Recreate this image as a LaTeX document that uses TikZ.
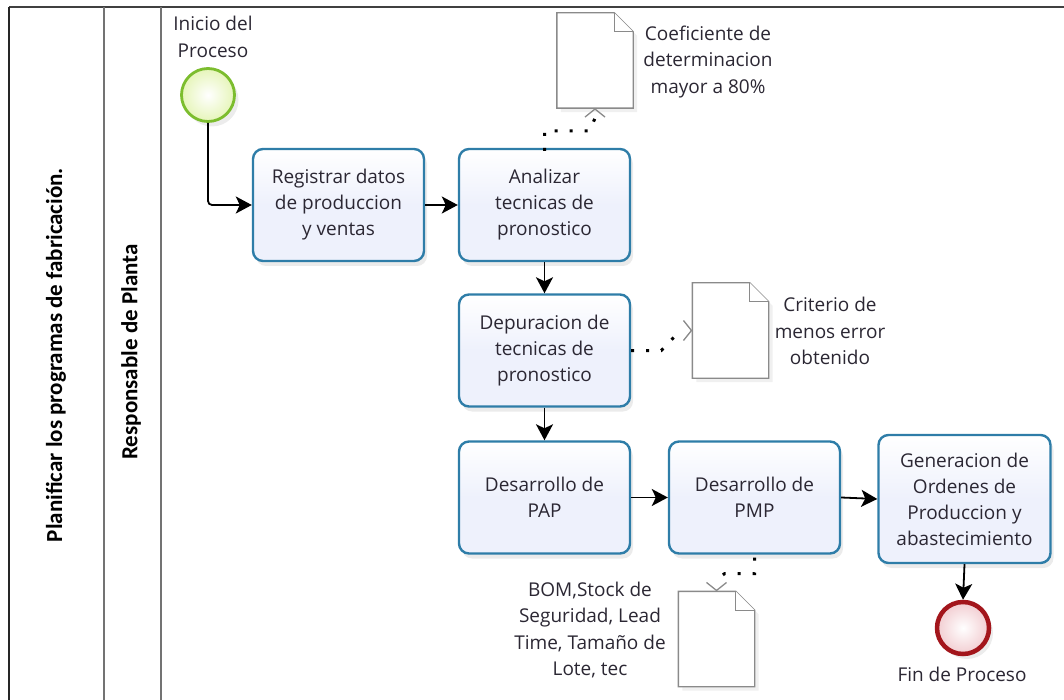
\documentclass[tikz,border=0pt]{standalone}
\usepackage{fontspec}
\setmainfont{Open Sans}
\newfontfamily\lanefont{Carlito}
\usetikzlibrary{arrows.meta,shadows}

\definecolor{taskblue}{HTML}{2E7DA8}
\definecolor{taskfill}{HTML}{EEF1FC}
\definecolor{startgreen}{HTML}{7CBD2E}
\definecolor{startfill}{HTML}{E6F5B9}
\definecolor{endred}{HTML}{A3161C}
\definecolor{endfill}{HTML}{F2CDD1}
\definecolor{txt}{HTML}{2B2733}
\definecolor{docline}{HTML}{8A8A8A}

\tikzset{
  task/.style={draw=taskblue, line width=2.4pt, rounded corners=10pt,
    top color=white, bottom color=taskfill, middle color=taskfill,
    minimum width=171pt, minimum height=112pt, align=center,
    text=txt, font=\fontsize{19}{26}\selectfont,
    drop shadow={shadow xshift=3pt, shadow yshift=-5pt, opacity=0.16}},
  flow/.style={line width=1.8pt, -{Stealth[length=16pt,width=17pt,inset=4pt]}},
  assoc/.style={line width=3pt, dash pattern=on 3pt off 12pt},
  assoctip/.style={solid, draw=docline, line width=1.3pt,
    -{Straight Barb[length=8pt,width=20pt]}},
  docbox/.style={minimum width=76pt, minimum height=95pt, inner sep=0pt},
  docshape/.style={draw=docline, line width=1.4pt, fill=white,
    drop shadow={shadow xshift=4pt, shadow yshift=-4pt, opacity=0.12}},
  label/.style={align=center, text=txt, font=\fontsize{19}{26.5}\selectfont},
  lane/.style={rotate=90, font=\lanefont\bfseries\fontsize{23}{25}\selectfont}
}

\begin{document}
\begin{tikzpicture}[x=1pt, y=-1pt]
\useasboundingbox (0,0) rectangle (1064,700);

% pool and lane frame
\draw[line width=1.6pt, black!75] (9,7) -- (1064,7);
\draw[line width=1.8pt, black!85] (9,7) -- (9,700);
\draw[line width=1.8pt, black!55] (104,7) -- (104,700);
\draw[line width=1.8pt, black!55] (161,7) -- (161,700);
\node[lane] (pool) at (56,355) {Planificar los programas de fabricación.};
\node[lane] (lanename) at (131,352) {Responsable de Planta};

% events
\node[circle, draw=startgreen, line width=2.8pt, minimum size=53pt, inner sep=0pt,
      inner color=white, outer color=startfill,
      drop shadow={shadow xshift=4pt, shadow yshift=-5pt, opacity=0.15}] (start) at (208,95) {};
\node[label] (startlbl) at (213,37) {Inicio del\\Proceso};

\node[circle, draw=endred, line width=4.5pt, minimum size=52pt, inner sep=0pt,
      inner color=white, outer color=endfill,
      drop shadow={shadow xshift=4pt, shadow yshift=-5pt, opacity=0.15}] (finish) at (963,628) {};
\node[label] (finishlbl) at (962,674) {Fin de Proceso};

% tasks
\node[task] (reg) at (338.5,205) {Registrar datos\\de produccion\\y ventas};
\node[task] (ana) at (544.5,205) {Analizar\\tecnicas de\\pronostico};
\node[task] (dep) at (544.5,350.5) {Depuracion de\\tecnicas de\\pronostico};
\node[task] (pap) at (544.5,497.5) {Desarrollo de\\PAP};
\node[task] (pmp) at (754.5,497.5) {Desarrollo de\\PMP};
\node[task, minimum width=172pt, minimum height=128pt] (gen) at (964.5,499) {Generacion de\\Ordenes de\\Produccion y\\abastecimiento};

% data objects
\node[docbox] (doc1) at (595,60.5) {};
\node[docbox] (doc2) at (730.5,330.5) {};
\node[docbox] (doc3) at (716.5,639) {};
\foreach \d in {doc1,doc2,doc3}{
  \path[docshape] (\d.south west) -- (\d.north west) -- ([xshift=-19pt]\d.north east)
    -- ([yshift=-19pt]\d.north east) -- (\d.south east) -- cycle;
  \draw[docline, line width=1.1pt, fill=white] ([xshift=-19pt]\d.north east)
    -- ([xshift=-19pt,yshift=-19pt]\d.north east) -- ([yshift=-19pt]\d.north east);
}
\node[label] (doc1lbl) at (708,62) {Coeficiente de\\determinacion\\mayor a 80\%};
\node[label] (doc2lbl) at (830,331) {Criterio de\\menos error\\obtenido};
\node[label] (doc3lbl) at (590,630) {BOM,Stock de\\Seguridad, Lead\\Time, Tamaño de\\Lote, tec};

% sequence flows
\draw[flow, rounded corners=4pt] (start.south) |- (reg.west);
\draw[flow] (reg.east) -- (ana.west);
\draw[flow] (ana.south) -- (dep.north);
\draw[flow] (dep.south) -- (pap.north);
\draw[flow] (pap.east) -- (pmp.west);
\draw[flow] (pmp.east) -- (gen.west);
\draw[flow] (gen.south) -- (finish.north);

% associations: dotted lines, then open arrowheads at the data objects
\draw[assoc] ([yshift=-3pt]ana.north) -- ++(0,-20) -- ++(45,0) -- ([yshift=-10pt]doc1.south);
\draw[assoctip] ([yshift=-1pt]doc1.south) -- (doc1.south);
\draw[assoc] (dep.east) -- ++(30,0) -- ([xshift=-12pt]doc2.west);
\draw[assoctip] ([xshift=-1pt]doc2.west) -- (doc2.west);
\draw[assoc] ([yshift=-3pt]pmp.south) -- ++(0,16) -- ++(-30,0) -- ([yshift=12pt]doc3.north);
\draw[assoctip] ([yshift=1pt]doc3.north) -- (doc3.north);
\end{tikzpicture}
\end{document}
